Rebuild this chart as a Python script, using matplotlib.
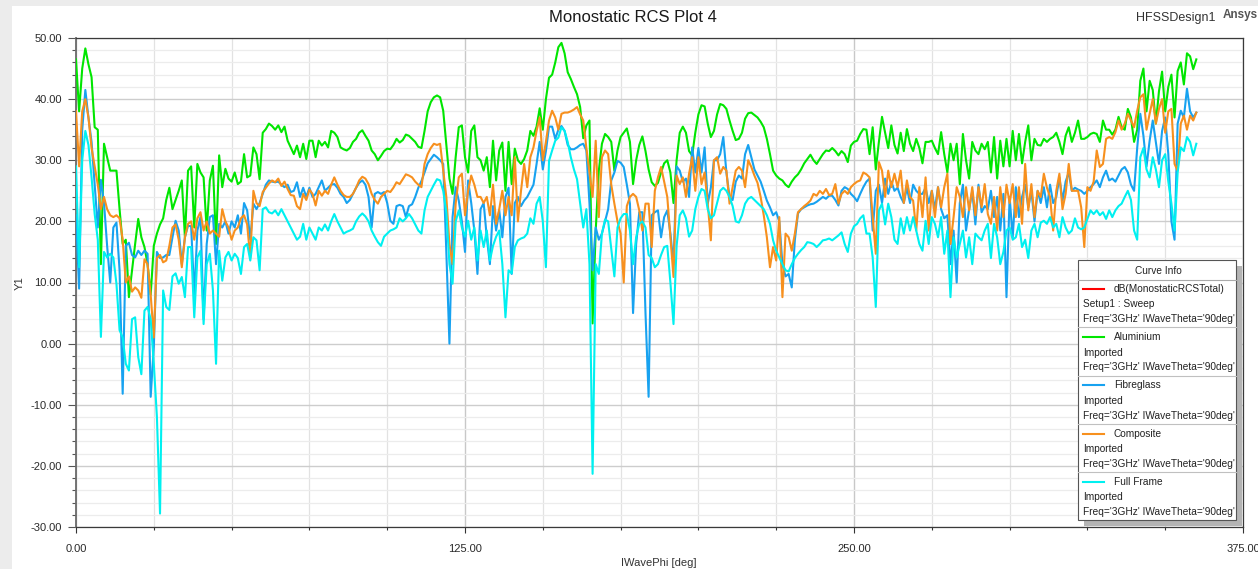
import numpy as np
import matplotlib
matplotlib.use("Agg")
import matplotlib.pyplot as plt
from matplotlib.patches import Rectangle
from matplotlib.lines import Line2D
from matplotlib.ticker import FormatStrFormatter

plt.rcParams['font.family'] = ['Liberation Sans', 'DejaVu Sans']

# IWavePhi [deg], 1 deg steps
phi = np.arange(0, 361)

# dB(MonostaticRCSTotal) per material
aluminium = [
    46.5, 38, 45, 48.3, 45.7, 43.6, 35.4, 35, 13, 32.7,
    30.5, 28.3, 28.3, 28.3, 22, 16.3, 17, 7.6, 12, 16.3,
    20.4, 17.4, 15.8, 13, 8, 16, 18, 19.5, 20.5, 23.5,
    25.5, 22, 23.5, 25, 26.7, 17.4, 28.3, 29, 19, 29.4,
    28, 27.2, 18.5, 26.7, 29.1, 16.3, 30.8, 25.6, 28.6, 27,
    26.5, 28, 26.1, 26.5, 31, 27.2, 27.5, 32.1, 31, 26.9,
    34.5, 35.1, 36, 35.6, 35, 35.7, 34.6, 35.5, 33.2, 32.1,
    31, 32.4, 30.5, 32.7, 30.2, 33.2, 33.2, 30.5, 33.2, 32.4,
    33, 32.1, 34.8, 34.5, 33.8, 32.1, 31.8, 31.6, 32, 33,
    33.5, 34.5, 34.9, 34, 33.2, 31.6, 31, 30, 30.7, 31.5,
    31.9, 31.8, 32.5, 33.5, 32.9, 33.3, 34.2, 34, 33.5, 33,
    32.2, 32, 34.8, 38, 39.5, 40.3, 40.6, 40.3, 38.1, 32.5,
    27, 24.5, 30.5, 35.4, 35.7, 30.5, 28, 34.8, 35.7, 30.5,
    30, 28.3, 30.5, 25.6, 33.2, 26.7, 31.6, 32.9, 25, 33,
    26.1, 31.9, 30, 29.4, 30.2, 31.6, 34.8, 34, 35.5, 38.5,
    35, 40, 43.5, 44, 46, 48.5, 49.2, 47.5, 44.4, 43.3,
    42, 40.8, 38.7, 33.6, 35.7, 36.5, 3.3, 18.5, 28.3, 32.7,
    34.3, 33.8, 33, 28.3, 31.6, 33.8, 34.5, 35.2, 33, 26.1,
    30, 32.5, 33.9, 31.5, 28.5, 26.4, 25.8, 26.3, 28, 29.5,
    30, 28, 23, 30, 34.5, 35.5, 34.5, 31.5, 30.8, 34.5,
    37.5, 39, 38.8, 36, 33.8, 34.8, 37.5, 39.2, 39, 38.4,
    36.5, 34.8, 33.3, 33.5, 34.5, 36.8, 37.7, 37.8, 37.4, 37,
    36.3, 35.4, 33.5, 31, 28.3, 27.5, 27, 26.7, 26, 25.6,
    26.5, 27.2, 27.7, 28.5, 29.5, 30.2, 30.9, 30, 29.4, 30.2,
    31, 31.6, 31.5, 32, 31.5, 30.8, 31.5, 31, 29.7, 32.4,
    33, 33.2, 34.3, 35.1, 35, 31, 35.4, 28.5, 33, 37.1,
    34.5, 32, 35.7, 32.5, 31.1, 34.5, 31.5, 35.1, 32.7, 31.5,
    33.5, 32, 29.5, 33, 33, 33.2, 32, 31, 34.6, 31,
    28, 32.7, 30, 32.7, 26.1, 34.3, 30, 27, 33, 31.6,
    31, 32.7, 31.8, 33, 28, 33.8, 27, 33.2, 29, 33.5,
    29, 34.8, 30, 34.3, 29.5, 33, 35.7, 30, 33.5, 32.5,
    32.4, 33.5, 33, 33.5, 33.8, 34.5, 33, 31, 34, 35.4,
    33, 34.5, 36.5, 33.5, 33.5, 33.8, 34.3, 34.5, 34.3, 33,
    36.5, 35, 35, 34.2, 35, 37.1, 35.4, 35, 38.4, 37,
    33, 35, 43, 45, 38, 43, 41.5, 36, 41.3, 44.5,
    38, 42, 44, 37, 44.6, 46, 42.4, 47.5, 47, 44.9,
    46.5,
]

fibreglass = [
    21, 9, 35, 41.5, 37, 33, 26, 19, 26.8, 23,
    16, 10, 19, 19.8, 12, -8.2, 16, 16.5, 14.5, 14.1,
    15.2, 14.5, 15.2, 14.7, -8.7, -0.5, 15, 14, 14.1, 14.5,
    14.5, 17.4, 20.1, 18.5, 13, 17.4, 19.3, 19.2, 8, 18.5,
    20.7, 4, 16.3, 20.7, 21, 13, 19.6, 19, 20, 18,
    20, 19, 21, 18, 23, 21.8, 17, 22.9, 22, 23,
    24.5, 26, 26.7, 26.5, 26.4, 26.5, 26, 25.6, 26, 24.8,
    25, 26.4, 24, 25.5, 24, 25.5, 24, 24.5, 25.6, 26.7,
    25, 25.5, 26, 26.1, 25.5, 24.5, 24, 23, 23.5, 24.5,
    25.5, 26.3, 26.7, 26, 24, 19, 24.5, 24.8, 24.5, 24.8,
    23, 20.1, 19.6, 22.5, 22.7, 22.5, 20.7, 22.5, 22.8, 24,
    25.5, 26.6, 28, 29.5, 30.2, 30.9, 30.5, 30, 29.4, 15,
    0, 20.7, 25.6, 23.4, 20, 15, 26.7, 23, 18.5, 11.4,
    22, 23, 17.4, 13, 22.5, 18.5, 21.8, 17.4, 24, 25.5,
    11.4, 23, 24, 22.5, 23.4, 24, 25, 26, 29.4, 33,
    28.5, 31.5, 35.5, 35.5, 33.5, 35, 35.6, 34.8, 32.5, 31.8,
    31.8, 32.1, 32.5, 32.7, 31.6, 22.9, 12, 19, 17, 18,
    20, 22, 26.7, 28, 29.9, 29.6, 28.9, 26, 22.9, 5,
    16.3, 21.5, 21.5, 5, -8.7, 21, 21.5, 21.8, 17.4, 20.7,
    21.8, 18, 13, 29, 28.3, 26.5, 27, 24, 32.1, 28,
    32, 28, 32.1, 22.9, 25.5, 30, 30, 31, 33.8, 28,
    24, 23.5, 26.5, 27.5, 27, 31, 32.5, 30.5, 28.5, 27.5,
    26.5, 25, 23.4, 22.3, 21, 21.5, 20, 13, 11, 11.4,
    9.2, 17, 21.3, 22, 22.3, 22.6, 22.8, 22.9, 23.2, 23.6,
    24, 23.7, 24.2, 24.2, 23.5, 22.6, 25, 25.6, 25.3, 24.5,
    24, 23.3, 24.5, 25.6, 26.5, 27, 18.5, 25, 26, 23,
    27, 24.5, 26.5, 25, 25.5, 24, 23, 25.5, 23, 26,
    25, 24.5, 24.5, 25.5, 23, 25, 22, 25.6, 22, 20.5,
    21, 13, 18.5, 10, 23, 26, 18.5, 22, 25, 19.5,
    26, 21.5, 22.5, 22, 25, 20.7, 24, 18.5, 24.5, 7.6,
    24, 17.4, 25.6, 20.7, 24, 26, 22.3, 25, 20, 25,
    23, 25.6, 22.3, 26, 23, 24, 27.2, 23.4, 26.5, 28,
    25, 25.5, 25.2, 25, 24.5, 25, 25.6, 26.1, 26.7, 25.6,
    27.2, 28.3, 26.7, 27, 26.5, 27.5, 28.5, 28.9, 28, 26,
    25, 32, 37.6, 34, 29, 33.2, 36.5, 33, 29.4, 34.8,
    37, 31, 20, 17, 36, 38.1, 37, 41.7, 38, 37,
    37.8,
]

composite = [
    38, 29, 38, 40, 37, 32, 29, 26, 22, 24,
    22, 21, 20.7, 21, 20.5, 17, 10, 11, 8.5, 9.2,
    8.7, 7.5, 13.8, 13, 8, 1, 14, 14.5, 13.3, 13.6,
    16, 19, 19.5, 17, 12.5, 17.4, 19.6, 20, 17, 20.5,
    21.5, 18.5, 20, 18, 18.5, 18, 17.5, 22, 20, 19,
    17, 18.5, 19, 20.5, 21, 19.5, 14, 25, 23, 22.5,
    24.8, 25.5, 26.2, 26.7, 26.4, 27, 25.8, 26.5, 25.3, 24.3,
    24.2, 22.5, 22, 24.5, 23.5, 25.2, 24.5, 22.6, 25, 24.2,
    25, 24.5, 26, 27.2, 26, 25, 24.3, 24, 24, 24.5,
    25.5, 26.7, 27.3, 27, 26.1, 24.5, 23.5, 22.9, 24, 24.5,
    25, 24.8, 25.5, 26.4, 26.1, 26.9, 27.7, 27.5, 27.2, 26.5,
    26, 25.6, 29.4, 31, 32, 32.7, 32.5, 32.7, 28.3, 24,
    16.3, 13, 22.9, 27.2, 27.8, 21, 25, 27.5, 26, 24,
    24, 23, 24, 21, 26, 19.6, 22, 25, 21, 24,
    21, 30.5, 20, 25, 29.4, 25.6, 30.5, 32.1, 34.8, 37,
    30, 33, 36.5, 38.1, 37, 35, 37.6, 37.8, 37.8, 38,
    38.3, 38.7, 37.5, 36.5, 32, 28, 24, 33.2, 20.7, 30.5,
    31.6, 31, 26, 22.9, 20, 18, 10, 22.5, 24, 24.5,
    24, 21.8, 18.5, 22.9, 22.9, 15.8, 25, 27.2, 28.9, 26.5,
    24, 17.4, 10.9, 27.5, 26.1, 27.2, 24, 27.8, 30.5, 25,
    30.5, 26.1, 28, 22.9, 16.9, 30, 30.5, 27.8, 28.9, 28.3,
    22.9, 25.6, 28.3, 28.9, 28.3, 25.6, 30, 28.9, 27.5, 26.3,
    24, 21, 17.4, 12.5, 15.8, 13.6, 20.7, 7.6, 18, 17.4,
    15.2, 18, 21.5, 22, 22.5, 22.9, 23.4, 24.5, 24.2, 25,
    24.5, 25.3, 24.3, 24.5, 26.1, 22.9, 24.5, 25, 24.5, 25.6,
    26.1, 26.5, 26.7, 28, 27.7, 27.2, 20.7, 14.7, 29.7, 28.3,
    24, 28.3, 25.6, 27.8, 25.6, 28.3, 23, 26.7, 24, 23.4,
    18.5, 25.6, 20.7, 27.2, 18.5, 25, 20.7, 25.6, 22.3, 25.6,
    27.8, 16.3, 20.7, 25.6, 24, 20.7, 25.6, 21.8, 25.6, 21,
    25.6, 22.3, 26.1, 21.2, 19.6, 24, 18.5, 25.6, 20.7, 26,
    23, 26.1, 20.7, 25.6, 19.6, 29.4, 21.8, 26.1, 20.7, 25,
    24, 27.8, 25.5, 24, 18.5, 25, 27.8, 22, 24.5, 29.4,
    25, 25, 25, 22.3, 15.8, 25.6, 25, 26.5, 31.6, 28.9,
    29.4, 33.5, 33.8, 33.5, 34.6, 36.5, 35, 36, 37.6, 36.5,
    35.4, 38.1, 40.3, 40.8, 35, 37.6, 40, 36, 38.4, 40,
    34.5, 38, 38.4, 29.4, 28.3, 36, 37.3, 35, 37.3, 36.5,
    37.8,
]

full_frame = [
    29, 12.5, 30, 34.8, 32.5, 27.2, 21.2, 17, 1.1, 15,
    14.1, 14.7, 14.1, 9.8, 2.2, 1, -3.3, -4.4, 4, 4.3,
    -2.2, -5, 5.4, 6, 4, -3.3, -12, -27.8, 8.7, 6,
    5.5, 11, 11.5, 9.8, 10.9, 7.6, 15.8, 15.8, 4.3, 14.1,
    15.2, 3.2, 13, 14.7, 8.7, -3.3, 15.2, 10.3, 14.1, 15,
    13.6, 14.7, 14, 11.4, 15.8, 16.3, 13.6, 17.4, 16.9, 12,
    22, 22.3, 21.5, 21.3, 21.8, 21, 22, 21, 20, 19,
    18, 17, 17.5, 19.6, 17, 19, 18, 17, 19, 18.5,
    19.5, 18.5, 20, 21.2, 20, 19, 18, 18.3, 18.5, 18.8,
    20, 20.8, 21.3, 20.8, 20, 18.5, 17.5, 16.6, 16, 17.5,
    18, 18.5, 18.7, 19, 20.5, 20, 20.5, 21.2, 20.5, 19.5,
    18.5, 18, 21.8, 24, 25, 26, 26.9, 26.7, 25, 21.5,
    13, 9.8, 20, 21.8, 19, 17.5, 20.1, 17, 19, 13.6,
    18.5, 15.8, 18.5, 13.6, 16, 17.5, 18.5, 13, 4.3, 12,
    11.5, 15.8, 16.9, 17.2, 17.4, 18, 20.5, 19.6, 22.9, 24,
    20, 12.5, 29.9, 31.6, 33.2, 33.7, 35.4, 34.8, 33, 30.5,
    28.5, 26.9, 22.9, 19, 22, 13, -21.3, 13, 11.4, 18,
    20.3, 20, 15.5, 11, 19, 20.5, 21.2, 21.2, 18.5, 13,
    17.4, 19.6, 20, 19, 14.5, 14, 12.5, 13, 14.5, 15.8,
    16, 10, 3.2, 16, 21, 21.8, 20.5, 17.5, 18.5, 22,
    24, 25.3, 25, 22, 20.5, 21, 23, 25, 25.5, 25,
    24, 22.5, 20, 19.8, 21, 22.9, 23.7, 24, 23.5, 23,
    22.5, 22, 21, 19.6, 16.9, 15.2, 14.1, 13, 12, 11.8,
    13, 14, 14.7, 15.3, 15.8, 16.6, 16.5, 16.3, 15.8, 16.3,
    16.9, 17, 17.2, 16.9, 17.3, 17.7, 18.2, 16.3, 15, 18,
    19.2, 19.6, 20.5, 21, 18, 18, 14.1, 6, 21.8, 22.9,
    19.5, 22.9, 20.7, 17, 16.3, 20.5, 18, 20.7, 18.5, 20.7,
    18.5, 16.3, 15.2, 20.1, 16.3, 20.7, 19.6, 17.4, 20.7, 14.7,
    18.5, 7.6, 17.4, 14.1, 16.3, 18.5, 14.1, 17.4, 13, 18,
    17.4, 16.9, 18.5, 19.6, 14, 19.6, 17.4, 13, 15, 18.5,
    19, 17, 17.4, 19.6, 15.8, 17, 14, 18.5, 19.6, 17.4,
    19.8, 20.1, 19.6, 20.7, 19, 19.6, 17.4, 20.7, 19, 18,
    18.5, 20.5, 19, 18.7, 19, 20.4, 21.8, 21.2, 21.8, 21,
    21.5, 20.4, 21.8, 20.7, 21.8, 22.5, 22.9, 24, 25, 23.5,
    18.5, 17, 30.5, 32, 28.5, 27.2, 30.5, 28.5, 25.6, 30,
    31, 26.5, 22.9, 18.5, 28, 32.1, 31.5, 33.8, 33, 30.8,
    32.7,
]

series = [
    ("Aluminium", aluminium, "#00e600"),
    ("Fibreglass", fibreglass, "#17a2f0"),
    ("Composite", composite, "#f7901e"),
    ("Full Frame", full_frame, "#00f0f0"),
]

W, H = 1258, 569
fig = plt.figure(figsize=(W / 100, H / 100), dpi=100, facecolor="#ececec")


def fx(x):
    return x / W


def fy(y):
    return 1 - y / H


fig.add_artist(Rectangle((fx(12), 0), 1 - fx(12), fy(6), transform=fig.transFigure,
                         facecolor="white", edgecolor="none", zorder=-10))

ax = fig.add_axes([fx(76), fy(527), fx(1243 - 76), (527 - 38) / H])
ax.set_facecolor("white")

for name, vals, col in series:
    ax.plot(phi, vals, color=col, lw=1.5, zorder=3)

ax.set_xlim(0, 375)
ax.set_ylim(-30, 50)
ax.set_xticks([0, 125, 250, 375])
ax.set_xticks(np.arange(0, 376, 25), minor=True)
ax.set_yticks(np.arange(-30, 51, 10))
ax.set_yticks(np.arange(-30, 51, 2), minor=True)
ax.xaxis.set_major_formatter(FormatStrFormatter("%.2f"))
ax.yaxis.set_major_formatter(FormatStrFormatter("%.2f"))

ax.grid(which="major", axis="y", color="#cdcdcd", lw=1.0)
ax.grid(which="minor", axis="y", color="#ececec", lw=0.9)
ax.grid(which="major", axis="x", color="#c8c8c8", lw=1.0)
ax.grid(which="minor", axis="x", color="#e2e2e2", lw=0.9)
ax.set_axisbelow(True)

ax.tick_params(axis="y", which="major", length=6, width=0.8, color="#555555",
               labelsize=8, labelcolor="#2a2a2a", pad=4)
ax.tick_params(axis="y", which="minor", length=3.2, width=0.8, color="#555555")
ax.tick_params(axis="x", which="major", length=4, width=0.8, color="#333333",
               labelsize=8, labelcolor="#2a2a2a", pad=8)
ax.tick_params(axis="x", which="minor", length=2.5, width=0.8, color="#333333")

for s in ["top", "right", "bottom"]:
    ax.spines[s].set_color("#3a3a3a")
    ax.spines[s].set_linewidth(0.9)
ax.spines["left"].set_color("#6a6a6a")
ax.spines["left"].set_linewidth(1.3)

fig.text(fx(633), fy(18), "Monostatic RCS Plot 4", ha="center", va="center",
         fontsize=12, color="#1a1a1a")
fig.text(fx(1136), fy(18), "HFSSDesign1", ha="left", va="center", fontsize=9, color="#333333")
fig.text(fx(1223), fy(15), "Ansys", ha="left", va="center", fontsize=8.5,
         fontweight="bold", color="#555555")
fig.text(fx(20), fy(283), "Y1", rotation=90, ha="center", va="center", fontsize=8, color="#333333")
fig.text(fx(659), fy(563), "IWavePhi [deg]", ha="center", va="center", fontsize=8, color="#333333")

# Curve Info box
bx0, by0, bx1, by1 = 1078, 260, 1236, 520
fig.add_artist(Rectangle((fx(bx0 + 6), fy(by1 + 6)), fx(bx1 - bx0), (by1 - by0) / H,
                         transform=fig.transFigure, facecolor="#b4b4b4",
                         edgecolor="none", zorder=20))
fig.add_artist(Rectangle((fx(bx0), fy(by1)), fx(bx1 - bx0), (by1 - by0) / H,
                         transform=fig.transFigure, facecolor="white",
                         edgecolor="#555555", lw=0.8, zorder=21))
fs = 7.3
fig.text(fx(1158), fy(271), "Curve Info", ha="center", va="center", fontsize=fs,
         color="#222222", zorder=22)
fig.add_artist(Line2D([fx(bx0), fx(bx1)], [fy(279.5), fy(279.5)],
                      transform=fig.transFigure, color="#aaaaaa", lw=0.8, zorder=22))

entries = [("dB(MonostaticRCSTotal)", "Setup1 : Sweep", "#ff0000")]
entries += [(name, "Imported", col) for name, vals, col in series]
step = 48.2
for i, (name, sub, col) in enumerate(entries):
    y0 = 289 + step * i
    fig.add_artist(Line2D([fx(1083), fx(1104)], [fy(y0), fy(y0)],
                          transform=fig.transFigure, color=col, lw=1.5, zorder=22))
    fig.text(fx(1114), fy(y0), name, ha="left", va="center", fontsize=fs,
             color="#222222", zorder=22)
    fig.text(fx(1083), fy(y0 + 15.3), sub, ha="left", va="center", fontsize=fs,
             color="#222222", zorder=22)
    fig.text(fx(1083), fy(y0 + 30.3), "Freq='3GHz' IWaveTheta='90deg'", ha="left",
             va="center", fontsize=fs, color="#222222", zorder=22)
    if i < len(entries) - 1:
        ys = y0 + 38.3
        fig.add_artist(Line2D([fx(bx0), fx(bx1)], [fy(ys), fy(ys)],
                              transform=fig.transFigure, color="#c0c0c0", lw=0.8, zorder=22))

fig.savefig("out.png", dpi=100, facecolor=fig.get_facecolor())
